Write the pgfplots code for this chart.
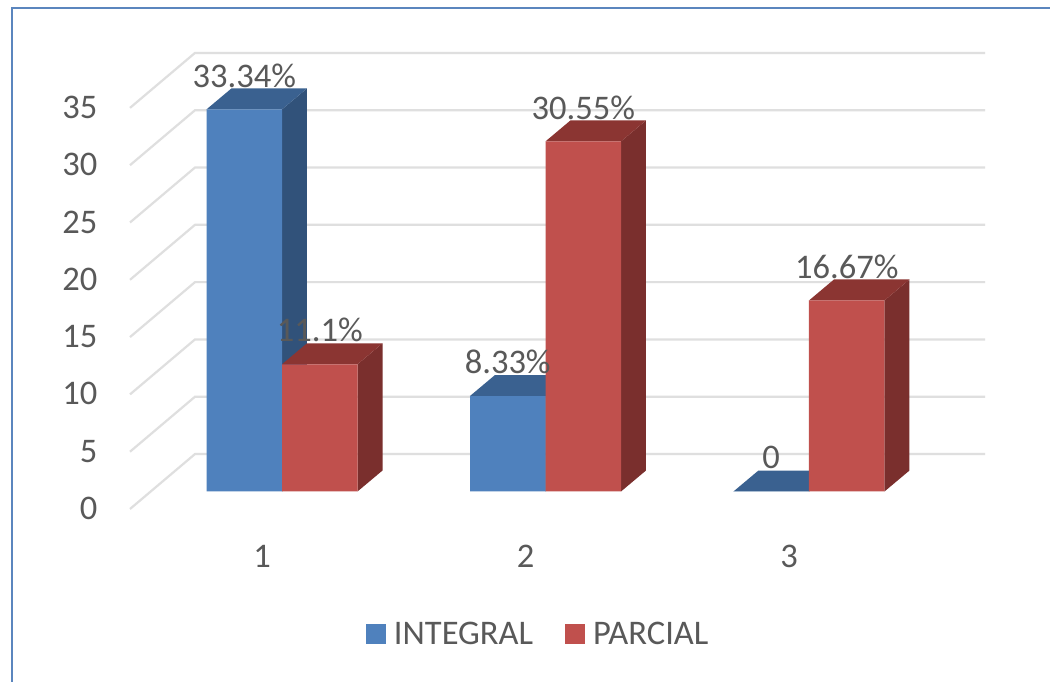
\documentclass[border=0pt]{standalone}
\usepackage{pgfplots}
\pgfplotsset{compat=1.18}
\usepackage{fontspec}
\setmainfont{Carlito}
\definecolor{txt}{HTML}{595959}
\definecolor{gridc}{HTML}{DFDFDF}
\definecolor{frameblue}{HTML}{5B86BE}
\definecolor{bluefront}{HTML}{4F81BD}
\definecolor{blueside}{HTML}{31527A}
\definecolor{bluetop}{HTML}{3A6190}
\definecolor{redfront}{HTML}{C0504D}
\definecolor{redside}{HTML}{7A2F2D}
\definecolor{redtop}{HTML}{8B3532}

% Depth of a bar in data units, and the offset of the back wall
\newcommand{\barw}{0.2865}
\newcommand{\depthx}{0.0949}
\newcommand{\depthy}{1.832}

% Side and top faces of one bar: left edge, value, side colour, top colour
\newcommand{\barfaces}[4]{%
  \pgfmathsetmacro{\xa}{#1+\barw}%
  \pgfmathsetmacro{\xb}{#1+\barw+\depthx}%
  \pgfmathsetmacro{\xc}{#1+\depthx}%
  \pgfmathsetmacro{\yb}{#2+\depthy}%
  \edef\facecmd{%
    \noexpand\addplot[fill=#3,draw=none,forget plot] coordinates
      {(\xa,0) (\xb,\depthy) (\xb,\yb) (\xa,#2)} --cycle;
    \noexpand\addplot[fill=#4,draw=none,forget plot] coordinates
      {(#1,#2) (\xc,\yb) (\xb,\yb) (\xa,#2)} --cycle;
  }\facecmd}

% One gridline level: diagonal on the floor side, horizontal on the back wall
\newcommand{\gridlevel}[1]{%
  \pgfmathsetmacro{\yf}{#1-1.527}%
  \pgfmathsetmacro{\yw}{#1+3.27}%
  \edef\gridcmd{%
    \noexpand\addplot[gridc,line width=2.2pt,forget plot] coordinates
      {(0.4231,\yf) (0.6698,\yw) (3.668,\yw)};
  }\gridcmd}

\begin{document}
\begin{tikzpicture}[x=1pt,y=1pt]
\useasboundingbox (0,0) rectangle (1050,682);
\fill[white] (0,0) rectangle (1050,682);
\draw[frameblue,line width=2.5pt] (12,0) -- (12,674) -- (1050,674);
\begin{axis}[
  at={(130pt,173pt)},anchor=south west,
  scale only axis,width=855pt,height=456pt,
  xmin=0.4231,xmax=3.668,ymin=-1.527,ymax=38.263,
  clip=false,
  axis line style={draw=none},
  tick style={draw=none},
  major tick length=0pt,
  xtick={1,2,3},
  ytick={0,5,...,35},
  tick label style={text=txt,font=\fontsize{34.5}{38}\selectfont},
  /pgf/number format/assume math mode=true,
  yticklabel style={anchor=east,xshift=-29pt,yshift=-17pt},
  xticklabel style={anchor=center,xshift=-20pt,yshift=-47pt},
  legend style={
    at={(axis cs:1.3187,-12.43)},anchor=west,draw=none,fill=none,
    font=\fontsize{34.5}{38}\selectfont,text=txt,
    legend columns=2,
    /tikz/every odd column/.append style={column sep=6pt},
    /tikz/every even column/.append style={column sep=30pt},
    inner sep=0pt,outer sep=0pt,
    legend cell align=left,
  },
  legend image code/.code={
    \fill[#1] (0pt,-10pt) rectangle (20pt,10pt);
  },
]
\gridlevel{0}\gridlevel{5}\gridlevel{10}\gridlevel{15}
\gridlevel{20}\gridlevel{25}\gridlevel{30}\gridlevel{35}

% First column of the series INTEGRAL and its 3-D faces
\barfaces{0.7133}{33.34}{blueside}{bluetop}
\barfaces{1.7133}{8.33}{blueside}{bluetop}
\barfaces{2.7133}{0}{blueside}{bluetop}
\addplot[ybar,bar width=75.5pt,bar shift=-37.75pt,fill=bluefront,draw=none]
  coordinates {(1,33.34) (2,8.33) (3,0)};
\addlegendentry{INTEGRAL}

% Second column of the series PARCIAL and its 3-D faces
\barfaces{1.0}{11.1}{redside}{redtop}
\barfaces{2.0}{30.55}{redside}{redtop}
\barfaces{3.0}{16.67}{redside}{redtop}
\addplot[ybar,bar width=75.5pt,bar shift=37.75pt,fill=redfront,draw=none]
  coordinates {(1,11.1) (2,30.55) (3,16.67)};
\addlegendentry{PARCIAL}

% Value labels above the columns
\addplot[only marks,mark=none,forget plot,
  point meta=explicit symbolic,
  nodes near coords,
  nodes near coords style={anchor=center,yshift=34pt,text=txt,
    font=\fontsize{34.5}{38}\selectfont,inner sep=0pt},
] table[meta=label] {
x y label
0.8567 33.34 33.34\%
1.1433 11.1 11.1\%
1.8567 8.33 8.33\%
2.1433 30.55 30.55\%
2.8567 0 0
3.1433 16.67 16.67\%
};
\end{axis}
\end{tikzpicture}
\end{document}
